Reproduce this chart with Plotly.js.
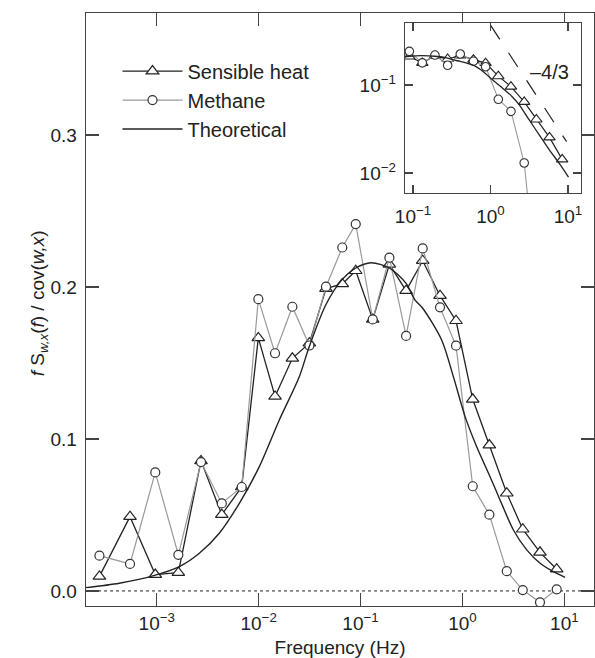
<!DOCTYPE html>
<html><head><meta charset="utf-8">
<script src="https://cdn.plot.ly/plotly-3.0.1.min.js"></script>
<style>body{margin:0;background:#fff;} #chart{width:595px;height:658px;}</style>
</head><body><div id="chart"></div>
<script>
// Frequencies (Hz) of the measured spectral estimates
const freq = [2.74e-4, 5.47e-4, 9.68e-4, 1.63e-3, 2.72e-3, 4.35e-3, 6.82e-3, 9.93e-3,
  0.01449, 0.02143, 0.03148, 0.04581, 0.06622, 0.08974, 0.1318, 0.1919, 0.2799,
  0.4074, 0.6026, 0.8650, 1.262, 1.837, 2.723, 3.908, 5.768, 8.414];
// Sensible heat (triangles)
const sensible = [0.0096, 0.0489, 0.0108, 0.012, 0.0856, 0.0502, 0.0684, 0.1665,
  0.128, 0.1531, 0.163, 0.199, 0.202, 0.2107, 0.1787, 0.2149, 0.1976,
  0.2173, 0.1943, 0.1778, 0.1261, 0.096, 0.0643, 0.0406, 0.0254, 0.0143];
// Methane (circles)
const methane = [0.0232, 0.0178, 0.078, 0.0238, 0.0848, 0.0576, 0.0684, 0.192,
  0.1564, 0.187, 0.1615, 0.2002, 0.226, 0.2414, 0.1787, 0.2193, 0.1678,
  0.2254, 0.1866, 0.1614, 0.0689, 0.0502, 0.013, 0.0006, -0.0075, 0.0011];
// Theoretical curve
const theoryFreq = [2.023e-4, 4.295e-4, 9.14e-4, 1.667e-3, 2.618e-3, 4.111e-3, 6.47e-3,
  0.01016, 0.01596, 0.02506, 0.03148, 0.04581, 0.06622, 0.08974, 0.1268, 0.1919,
  0.2799, 0.3428, 0.4074, 0.6266, 0.8147, 1.062, 1.380, 1.866, 2.339, 3.162,
  4.276, 5.781, 7.798, 10.16];
const theory = [0.0022, 0.0051, 0.0099, 0.016, 0.0248, 0.038, 0.0577, 0.0818, 0.1125,
  0.141, 0.161, 0.1885, 0.205, 0.2125, 0.216, 0.2125, 0.2024, 0.1914, 0.186,
  0.165, 0.141, 0.1147, 0.0949, 0.0752, 0.0599, 0.0401, 0.027, 0.0182, 0.0127, 0.009];
// -4/3 reference slope (inset)
const slopeFreq = [1.0, 9.6];
const slopeVal = [0.48, 0.0227];
const slopeLabel = '\u20134/3';

const mainXTicks = [0.001, 0.01, 0.1, 1, 10];
const mainXTickText = ['10<sup>\u22123</sup>', '10<sup>\u22122</sup>', '10<sup>\u22121</sup>', '10<sup>0</sup>', '10<sup>1</sup>'];
const mainYTicks = [0, 0.1, 0.2, 0.3];
const insetXTicks = [0.1, 1, 10];
const insetXTickText = ['10<sup>\u22121</sup>', '10<sup>0</sup>', '10<sup>1</sup>'];
const insetYTicks = [0.01, 0.1];
const insetYTickText = ['10<sup>\u22122</sup>', '10<sup>\u22121</sup>'];
const yTitle = '<i>f</i> S<sub><i>w,x</i></sub>(<i>f</i>) / cov(<i>w,x</i>)';

const ink = '#222';
const axisColor = '#444';
const grey = '#999';

const traces = [
  {x: freq, y: sensible, name: 'Sensible heat', mode: 'lines+markers', xaxis: 'x', yaxis: 'y',
   line: {color: ink, width: 1.3},
   marker: {symbol: 'triangle-up', size: 11, color: 'white', line: {color: ink, width: 1.2}}},
  {x: freq, y: methane, name: 'Methane', mode: 'lines+markers', xaxis: 'x', yaxis: 'y',
   line: {color: grey, width: 1.2},
   marker: {symbol: 'circle', size: 9, color: 'white', line: {color: '#333', width: 1.2}}},
  {x: theoryFreq, y: theory, name: 'Theoretical', mode: 'lines', xaxis: 'x', yaxis: 'y',
   line: {color: ink, width: 1.4, shape: 'spline', smoothing: 0.8}},
  // inset
  {x: freq, y: sensible, mode: 'lines+markers', xaxis: 'x2', yaxis: 'y2', showlegend: false,
   line: {color: ink, width: 1.2},
   marker: {symbol: 'triangle-up', size: 10, color: 'white', line: {color: ink, width: 1.1}}},
  {x: freq, y: methane, mode: 'lines+markers', xaxis: 'x2', yaxis: 'y2', showlegend: false,
   line: {color: grey, width: 1.1},
   marker: {symbol: 'circle', size: 8.5, color: 'white', line: {color: '#333', width: 1.1}}},
  {x: theoryFreq, y: theory, mode: 'lines', xaxis: 'x2', yaxis: 'y2', showlegend: false,
   line: {color: ink, width: 1.3, shape: 'spline', smoothing: 0.8}},
  {x: slopeFreq, y: slopeVal, mode: 'lines', xaxis: 'x2', yaxis: 'y2', showlegend: false,
   line: {color: ink, width: 1.2, dash: '17px,16px'}}
];

const baseAxis = {
  showline: true, linecolor: axisColor, linewidth: 1.3, mirror: 'ticks',
  ticks: 'inside', tickcolor: axisColor, tickwidth: 1.3,
  showgrid: false, zeroline: false, automargin: false,
  tickfont: {size: 19, color: ink}
};

const layout = {
  width: 595, height: 658,
  margin: {l: 86, r: 1, t: 13, b: 52},
  paper_bgcolor: 'white', plot_bgcolor: 'white',
  font: {family: 'Liberation Sans, Arial, Helvetica, sans-serif', size: 19, color: ink},
  showlegend: true,
  legend: {x: 0.062, y: 0.935, xanchor: 'left', yanchor: 'top', bgcolor: 'rgba(0,0,0,0)',
           font: {size: 20, color: ink}, itemwidth: 60, tracegroupgap: 0},
  xaxis: Object.assign({}, baseAxis, {
    type: 'log', range: [-3.694, 1.291], domain: [0, 1], anchor: 'y',
    tickmode: 'array', tickvals: mainXTicks, ticktext: mainXTickText, ticklen: 13,
    title: {text: 'Frequency (Hz)', font: {size: 19, color: ink}, standoff: 7}
  }),
  yaxis: Object.assign({}, baseAxis, {
    range: [-0.0099, 0.3803], domain: [0, 1], anchor: 'x',
    tickmode: 'array', tickvals: mainYTicks, tickformat: '.1f', ticklen: 13,
    ticklabelstandoff: 4
  }),
  xaxis2: Object.assign({}, baseAxis, {
    type: 'log', range: [-1.103, 1.168], domain: [0.628, 0.9744], anchor: 'y2',
    tickmode: 'array', tickvals: insetXTicks, ticktext: insetXTickText, ticklen: 8,
    ticklabelstandoff: 6
  }),
  yaxis2: Object.assign({}, baseAxis, {
    type: 'log', range: [-2.227, -0.295], domain: [0.6965, 0.9831], anchor: 'x2',
    tickmode: 'array', tickvals: insetYTicks, ticktext: insetYTickText, ticklen: 8,
    ticklabelstandoff: 4
  }),
  shapes: [
    {type: 'line', xref: 'paper', x0: 0, x1: 1, yref: 'y', y0: 0, y1: 0,
     line: {color: ink, width: 1, dash: '3px,3px'}, layer: 'below'}
  ],
  annotations: [
    {xref: 'x2', yref: 'y2', x: Math.log10(5.69), y: Math.log10(0.1406), text: slopeLabel,
     showarrow: false, font: {size: 20, color: ink}},
    {xref: 'paper', yref: 'paper', x: -0.093, y: 0.51, xanchor: 'center', yanchor: 'middle',
     textangle: -90, text: yTitle, showarrow: false, font: {size: 19, color: ink}}
  ]
};

Plotly.newPlot('chart', traces, layout, {displayModeBar: false, staticPlot: true});
</script>
</body></html>
